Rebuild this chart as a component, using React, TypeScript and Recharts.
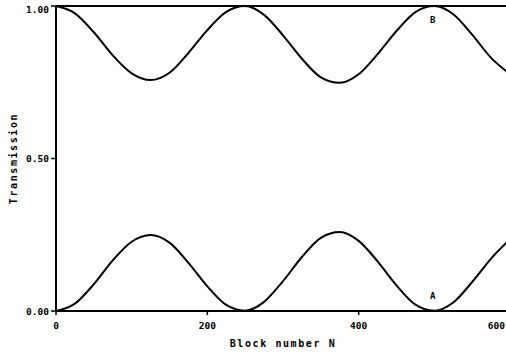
import { LineChart, Line, XAxis, YAxis, ReferenceLine, ReferenceDot } from "recharts"

const blockN = [0, 25, 50, 75, 100, 125, 150, 175, 200, 225, 250, 275, 300, 325, 350, 375, 400, 425, 450, 475, 500, 525, 550, 575, 600]

const curveA = [0, 0.024, 0.088, 0.166, 0.227, 0.249, 0.224, 0.158, 0.081, 0.02, 0.001, 0.03, 0.098, 0.177, 0.24, 0.259, 0.23, 0.163, 0.084, 0.021, 0.001, 0.028, 0.095, 0.172, 0.235]

const curveB = [1.0, 0.976, 0.914, 0.838, 0.779, 0.757, 0.781, 0.846, 0.921, 0.981, 1.0, 0.971, 0.904, 0.827, 0.766, 0.748, 0.776, 0.842, 0.918, 0.98, 1.0, 0.973, 0.906, 0.83, 0.777]

const xTicks = [0, 200, 400, 600]
const yTicks = [0, 0.5, 1]

const data = blockN.map((n, i) => ({ n, a: curveA[i], b: curveB[i] }))

const font = "'DejaVu Sans Mono', monospace"
const tickStyle = { fontSize: 9.5, fontWeight: 700, fill: "#000", fontFamily: font }
const titleStyle = { fontSize: 10, fontWeight: 700, fill: "#000", fontFamily: font, letterSpacing: 1.6 }

// last x tick would run off the page, so pin it to the right edge
const XTick = (props: any) => {
  const { x, y, payload } = props
  const last = payload.value === 600
  return (
    <text x={last ? 505 : x} y={y + 12} textAnchor={last ? "end" : "middle"} style={tickStyle}>
      {payload.value}
    </text>
  )
}

const YTick = (props: any) => {
  const { x, y, payload } = props
  return (
    <text x={x} y={y + 3.5} textAnchor="end" style={tickStyle}>
      {payload.value.toFixed(2)}
    </text>
  )
}

export default function App() {
  return (
    <div style={{ position: "absolute", left: 0, top: 0, width: 506, height: 356, overflow: "hidden", background: "#fff" }}>
      <LineChart
        width={520}
        height={356}
        data={data}
        margin={{ top: 6, right: 10, left: 24, bottom: 0 }}
        style={{ overflow: "visible" }}
      >
        <XAxis
          dataKey="n"
          type="number"
          domain={[0, 600]}
          ticks={xTicks}
          tick={<XTick />}
          tickLine={{ stroke: "#000", strokeWidth: 1.5 }}
          tickSize={4}
          axisLine={{ stroke: "#000", strokeWidth: 2 }}
          height={45}
          label={{ value: "Block number N", position: "insideBottom", offset: 9, style: titleStyle }}
        />
        <YAxis
          type="number"
          domain={[0, 1]}
          ticks={yTicks}
          tick={<YTick />}
          tickLine={{ stroke: "#000", strokeWidth: 1.5 }}
          tickSize={5}
          axisLine={{ stroke: "#000", strokeWidth: 2 }}
          width={32}
          label={{
            value: "Transmission",
            angle: -90,
            position: "insideLeft",
            offset: -11,
            style: { ...titleStyle, textAnchor: "middle" },
          }}
        />
        <ReferenceLine y={1} stroke="#000" strokeWidth={2} ifOverflow="visible" />
        <Line dataKey="b" type="monotone" stroke="#000" strokeWidth={2} dot={false} isAnimationActive={false} />
        <Line dataKey="a" type="monotone" stroke="#000" strokeWidth={2} dot={false} isAnimationActive={false} />
        <ReferenceDot x={498} y={0.955} r={0} label={{ value: "B", position: "center", style: { ...tickStyle, fontSize: 9 } }} />
        <ReferenceDot x={498} y={0.05} r={0} label={{ value: "A", position: "center", style: { ...tickStyle, fontSize: 9 } }} />
      </LineChart>
    </div>
  )
}
